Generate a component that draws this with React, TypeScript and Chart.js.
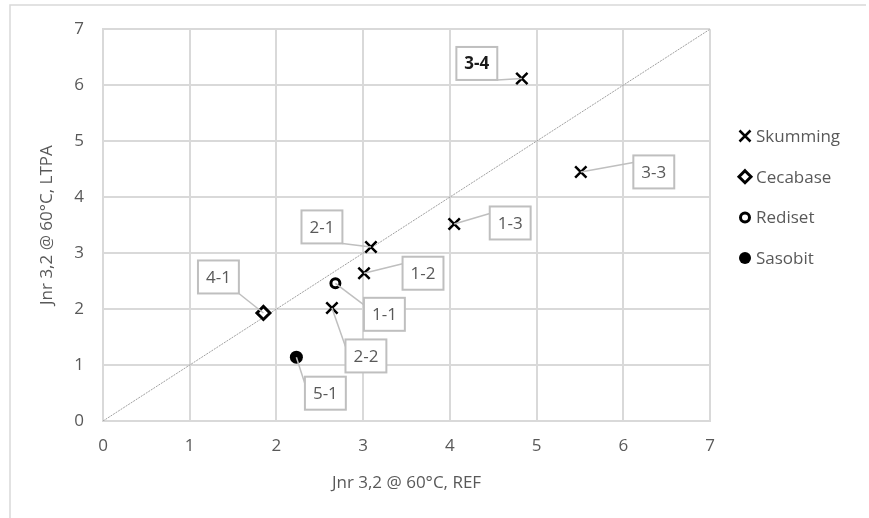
import React, { useEffect, useRef } from 'react';
import { Chart, registerables } from 'chart.js';

Chart.register(...registerables);

// ---- data ----
const axisTitleX = 'Jnr 3,2 @ 60°C, REF';
const axisTitleY = 'Jnr 3,2 @ 60°C, LTPA';
const axisMin = 0;
const axisMax = 7;
const axisStep = 1;

const seriesNames = ['Skumming', 'Cecabase', 'Rediset', 'Sasobit'];

const skummingLabels = ['3-4', '3-3', '1-3', '2-1', '1-2', '2-2'];
const skummingRef = [4.83, 5.51, 4.05, 3.09, 3.01, 2.64];
const skummingLtpa = [6.12, 4.45, 3.52, 3.11, 2.64, 2.02];

const cecabaseLabels = ['4-1'];
const cecabaseRef = [1.85];
const cecabaseLtpa = [1.93];

const redisetLabels = ['1-1'];
const redisetRef = [2.68];
const redisetLtpa = [2.46];

const sasobitLabels = ['5-1'];
const sasobitRef = [2.23];
const sasobitLtpa = [1.14];

const diagonalValues = [0, 7];

// ---- label layout (pixel offsets of label box centre from its point) ----
const labelOffsets: Record<string, [number, number]> = {
  '3-4': [-45, -15],
  '3-3': [73, 0],
  '1-3': [56, -1],
  '2-1': [-49, -20],
  '1-2': [59, 0],
  '2-2': [34, 48],
  '1-1': [49, 31],
  '4-1': [-45, -36],
  '5-1': [29, 36],
};
const boldLabels = ['3-4'];

const FONT = '"Open Sans", "Noto Sans", sans-serif';
const TEXT = '#595959';
const GRID = '#d9d9d9';

function pts(xs: number[], ys: number[]) {
  return xs.map((x, i) => ({ x, y: ys[i] }));
}

function drawMarker(ctx: CanvasRenderingContext2D, kind: number, x: number, y: number) {
  ctx.save();
  ctx.strokeStyle = '#000';
  ctx.fillStyle = '#000';
  if (kind === 0) {
    const a = 5.5;
    ctx.lineWidth = 2.5;
    ctx.beginPath();
    ctx.moveTo(x - a, y - a);
    ctx.lineTo(x + a, y + a);
    ctx.moveTo(x + a, y - a);
    ctx.lineTo(x - a, y + a);
    ctx.stroke();
  } else if (kind === 1) {
    const r = 6;
    ctx.lineWidth = 3;
    ctx.fillStyle = '#fff';
    ctx.beginPath();
    ctx.moveTo(x, y - r);
    ctx.lineTo(x + r, y);
    ctx.lineTo(x, y + r);
    ctx.lineTo(x - r, y);
    ctx.closePath();
    ctx.fill();
    ctx.stroke();
  } else if (kind === 2) {
    ctx.lineWidth = 3;
    ctx.fillStyle = '#fff';
    ctx.beginPath();
    ctx.arc(x, y, 4.5, 0, Math.PI * 2);
    ctx.fill();
    ctx.stroke();
  } else {
    ctx.beginPath();
    ctx.arc(x, y, 6, 0, Math.PI * 2);
    ctx.fill();
  }
  ctx.restore();
}

const framePlugin = {
  id: 'frame',
  beforeDraw(chart: any) {
    const ctx = chart.ctx as CanvasRenderingContext2D;
    ctx.save();
    ctx.fillStyle = '#fff';
    ctx.fillRect(0, 0, chart.width, chart.height);
    ctx.strokeStyle = GRID;
    ctx.lineWidth = 1.5;
    ctx.beginPath();
    ctx.moveTo(10, chart.height);
    ctx.lineTo(10, 5);
    ctx.lineTo(866, 5);
    ctx.stroke();
    ctx.restore();
  },
};

const labelPlugin = {
  id: 'pointLabels',
  afterDatasetsDraw(chart: any) {
    const ctx = chart.ctx as CanvasRenderingContext2D;
    chart.data.datasets.forEach((ds: any, di: number) => {
      if (!ds.pointLabels) return;
      const meta = chart.getDatasetMeta(di);
      meta.data.forEach((el: any, i: number) => {
        const text = ds.pointLabels[i];
        const off = labelOffsets[text] || [40, 0];
        const bold = boldLabels.includes(text);
        ctx.save();
        ctx.font = `${bold ? 'bold ' : ''}17px ${FONT}`;
        const tw = ctx.measureText(text).width;
        const w = tw + 16;
        const h = 33;
        const cx = el.x + off[0];
        const cy = el.y + off[1];
        const l = cx - w / 2, r = cx + w / 2, t = cy - h / 2, b = cy + h / 2;
        // leader attaches near the upper-left for labels to the right,
        // and at the lower-right corner for labels to the left
        const ax = off[0] > 0 ? l : r;
        const ay = off[0] > 0 ? t + 7 : b;
        ctx.strokeStyle = '#bfbfbf';
        ctx.lineWidth = 1.5;
        ctx.beginPath();
        ctx.moveTo(el.x, el.y);
        ctx.lineTo(ax, ay);
        ctx.stroke();
        ctx.fillStyle = '#fff';
        ctx.fillRect(l, t, w, h);
        ctx.lineWidth = 2;
        ctx.strokeRect(l, t, w, h);
        ctx.fillStyle = bold ? '#1a1a1a' : TEXT;
        ctx.textAlign = 'center';
        ctx.textBaseline = 'middle';
        ctx.fillText(text, cx, cy + 1);
        ctx.restore();
      });
    });
  },
};

const legendPlugin = {
  id: 'customLegend',
  afterDraw(chart: any) {
    const ctx = chart.ctx as CanvasRenderingContext2D;
    ctx.save();
    ctx.font = `17px ${FONT}`;
    ctx.fillStyle = TEXT;
    ctx.textAlign = 'left';
    ctx.textBaseline = 'middle';
    seriesNames.forEach((name, i) => {
      const y = 136 + i * 40.7;
      drawMarker(ctx, i, 745, y);
      ctx.fillStyle = TEXT;
      ctx.fillText(name, 756, y + 1);
    });
    ctx.restore();
  },
};

export default function App() {
  const ref = useRef<HTMLCanvasElement>(null);
  useEffect(() => {
    if (!ref.current) return;
    const font = { family: FONT, size: 17 };
    const chart = new Chart(ref.current, {
      type: 'scatter',
      data: {
        datasets: [
          {
            label: seriesNames[0],
            data: pts(skummingRef, skummingLtpa),
            pointLabels: skummingLabels,
            pointStyle: 'crossRot',
            pointRadius: 8,
            borderWidth: 2.5,
            borderColor: '#000',
            backgroundColor: '#000',
          } as any,
          {
            label: seriesNames[1],
            data: pts(cecabaseRef, cecabaseLtpa),
            pointLabels: cecabaseLabels,
            pointStyle: 'rectRot',
            pointRadius: 6.5,
            borderWidth: 3,
            borderColor: '#000',
            backgroundColor: '#fff',
          } as any,
          {
            label: seriesNames[2],
            data: pts(redisetRef, redisetLtpa),
            pointLabels: redisetLabels,
            pointStyle: 'circle',
            pointRadius: 4.5,
            borderWidth: 3,
            borderColor: '#000',
            backgroundColor: '#fff',
          } as any,
          {
            label: seriesNames[3],
            data: pts(sasobitRef, sasobitLtpa),
            pointLabels: sasobitLabels,
            pointStyle: 'circle',
            pointRadius: 6.5,
            borderWidth: 0,
            borderColor: '#000',
            backgroundColor: '#000',
          } as any,
          {
            type: 'line',
            label: 'diagonal',
            data: pts(diagonalValues, diagonalValues),
            borderColor: '#a0a0a0',
            borderWidth: 1,
            borderDash: [2, 1],
            pointRadius: 0,
            fill: false,
          } as any,
        ],
      },
      options: {
        responsive: false,
        animation: false,
        layout: { padding: { left: 0, right: 159, top: 29, bottom: 0 } },
        plugins: {
          legend: { display: false },
          tooltip: { enabled: false },
        },
        scales: {
          x: {
            type: 'linear',
            min: axisMin,
            max: axisMax,
            ticks: { stepSize: axisStep, padding: 15, color: TEXT, font },
            grid: { color: GRID, lineWidth: 2, drawTicks: false },
            border: { color: GRID, width: 2 },
            title: {
              display: true,
              text: axisTitleX,
              color: TEXT,
              font,
              padding: { top: 4, bottom: 25 },
            },
            afterFit: (s: any) => {
              s.height = 97;
            },
          },
          y: {
            type: 'linear',
            min: axisMin,
            max: axisMax,
            ticks: { stepSize: axisStep, padding: 19, color: TEXT, font },
            grid: { color: GRID, lineWidth: 2, drawTicks: false },
            border: { color: GRID, width: 2 },
            title: {
              display: true,
              text: axisTitleY,
              color: TEXT,
              font,
              padding: { top: 37, bottom: 4 },
            },
            afterFit: (s: any) => {
              s.width = 103;
            },
          },
        },
      },
      plugins: [framePlugin, labelPlugin, legendPlugin],
    });
    return () => chart.destroy();
  }, []);
  return (
    <div style={{ position: 'fixed', left: 0, top: 0, width: 869, height: 518, background: '#fff' }}>
      <canvas ref={ref} width={869} height={518} style={{ display: 'block' }} />
    </div>
  );
}
